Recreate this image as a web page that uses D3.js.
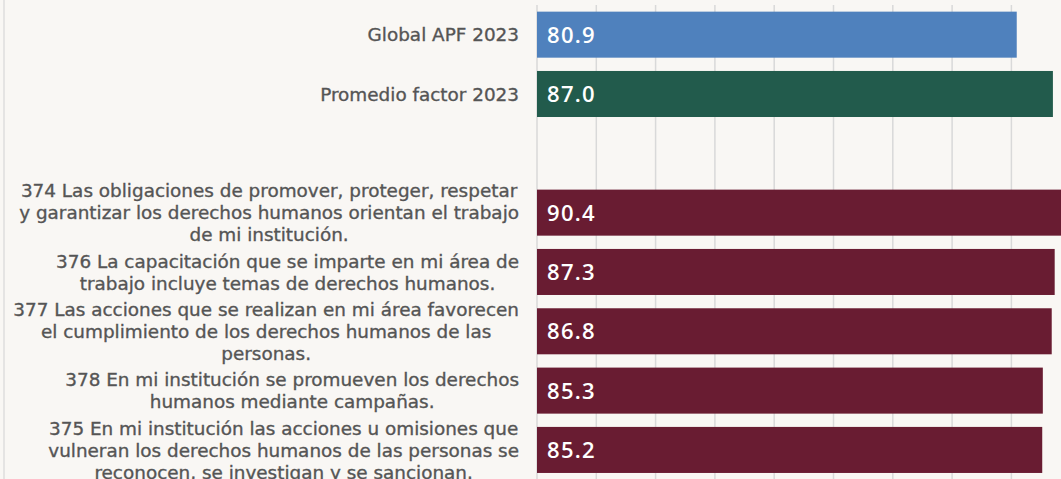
<!DOCTYPE html>
<html>
<script src="https://d3js.org/d3.v7.min.js"></script>
<style>
    body {
        margin: 0;
        background: #f9f7f4;
    }

    svg {
        display: block;
    }

    .grid line {
        stroke: #d9d9d9;
        stroke-width: 1.5;
    }

    .cat-label {
        fill: #555555;
        stroke: #555555;
        stroke-width: 0.35px;
        font-family: "DejaVu Sans", sans-serif;
        font-size: 18.4px;
    }

    .val-label {
        fill: #ffffff;
        font-family: "Open Sans", sans-serif;
        font-size: 22px;
        font-weight: 600;
        letter-spacing: 1.3px;
    }
</style>

<body>
    <svg width=1061 height=479></svg>
    <script>
        // categories, top to bottom ("" is the empty spacer row)
        const categories = [
            "Global APF 2023",
            "Promedio factor 2023",
            "",
            "374 Las obligaciones de promover, proteger, respetar\ny garantizar los derechos humanos orientan el trabajo\nde mi institución.",
            "376 La capacitación que se imparte en mi área de\ntrabajo incluye temas de derechos humanos.",
            "377 Las acciones que se realizan en mi área favorecen\nel cumplimiento de los derechos humanos de las\npersonas.",
            "378 En mi institución se promueven los derechos\nhumanos mediante campañas.",
            "375 En mi institución las acciones u omisiones que\nvulneran los derechos humanos de las personas se\nreconocen, se investigan y se sancionan."
        ];
        const values = [80.9, 87.0, null, 90.4, 87.3, 86.8, 85.3, 85.2];
        const colors = ["#4f81bd", "#225b4c", null, "#691c32", "#691c32", "#691c32", "#691c32", "#691c32"];
        const gridTicks = [0, 10, 20, 30, 40, 50, 60, 70, 80, 90, 100];

        const svg = d3.select('svg');
        const left = 537, labelRight = 519;

        // faint left border as in the slide
        svg.append('line')
            .attr('x1', 4).attr('x2', 4).attr('y1', 0).attr('y2', 479)
            .attr('stroke', '#dedede').attr('stroke-width', 1.5);

        const x = d3.scaleLinear()
            .domain([0, 100])
            .range([left, left + 593]);

        const y = d3.scaleBand()
            .domain(d3.range(categories.length))
            .range([5, 479.6])
            .paddingInner(0.224)
            .paddingOuter(0.112);

        // vertical gridlines
        svg.append('g').attr('class', 'grid')
            .selectAll('line')
            .data(gridTicks)
            .enter()
            .append('line')
            .attr('x1', d => x(d)).attr('x2', d => x(d))
            .attr('y1', 5).attr('y2', 479);

        const rows = categories.map((c, i) => ({ label: c, value: values[i], color: colors[i], i: i }));

        svg.append('g')
            .selectAll('rect')
            .data(rows.filter(d => d.value != null))
            .enter()
            .append('rect')
            .attr('x', x(0))
            .attr('y', d => y(d.i))
            .attr('width', d => x(d.value) - x(0))
            .attr('height', y.bandwidth())
            .attr('fill', d => d.color);

        // value labels inside bars
        svg.append('g')
            .selectAll('text')
            .data(rows.filter(d => d.value != null))
            .enter()
            .append('text')
            .attr('class', 'val-label')
            .attr('x', x(0) + 10)
            .attr('y', d => y(d.i) + y.bandwidth() / 2)
            .attr('dy', '0.36em')
            .text(d => d.value.toFixed(1));

        // category labels: lines centred within the block, block right-aligned
        const lineH = 22;
        rows.filter(d => d.label).forEach(d => {
            const lines = d.label.split('\n');
            const g = svg.append('g');
            const cy = y(d.i) + y.bandwidth() / 2;
            const texts = lines.map((t, k) => g.append('text')
                .attr('class', 'cat-label')
                .attr('text-anchor', 'middle')
                .attr('y', cy + (k - (lines.length - 1) / 2) * lineH)
                .attr('dy', '0.36em')
                .text(t));
            const maxW = d3.max(texts, t => t.node().getComputedTextLength());
            texts.forEach(t => t.attr('x', labelRight - maxW / 2));
        });
    </script>
</body>

</html>
